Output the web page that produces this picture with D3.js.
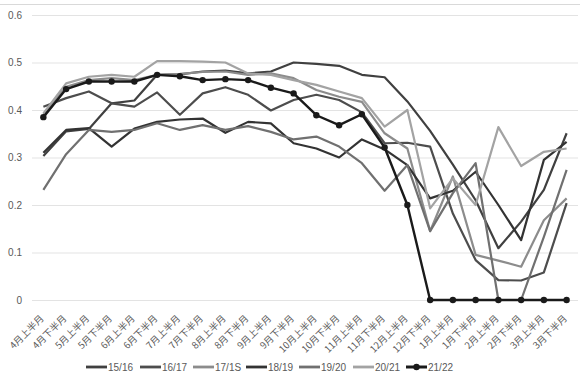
<!DOCTYPE html>
<html><head><meta charset="utf-8">
<script src="https://cdn.jsdelivr.net/npm/d3@7"></script>
<style>
html,body{margin:0;padding:0;background:#fff;}
svg{display:block;}
</style></head>
<body>
<svg id="chart" width="580" height="381"></svg>
<script>
const categories = ["4月上半月","4月下半月","5月上半月","5月下半月","6月上半月","6月下半月","7月上半月","7月下半月","8月上半月","8月下半月","9月上半月","9月下半月","10月上半月","10月下半月","11月上半月","11月下半月","12月上半月","12月下半月","1月上半月","1月下半月","2月上半月","2月下半月","3月上半月","3月下半月"];
const seriesNames = ["15/16","16/17","17/1S","18/19","19/20","20/21","21/22"];
const s1516 = [0.303,0.355,0.36,0.414,0.42,0.474,0.475,0.481,0.483,0.477,0.481,0.50,0.497,0.493,0.474,0.469,0.418,0.356,0.285,0.21,0.109,0.165,0.232,0.351];
const s1617 = [0.407,0.425,0.439,0.414,0.407,0.437,0.39,0.435,0.448,0.432,0.399,0.421,0.432,0.421,0.395,0.33,0.331,0.323,0.182,0.084,0.042,0.041,0.058,0.204];
const s1718 = [0.39,0.449,0.463,0.467,0.463,0.474,0.476,0.48,0.481,0.474,0.477,0.467,0.442,0.428,0.417,0.351,0.319,0.145,0.26,0.095,0.083,0.07,0.168,0.214];
const s1819 = [0.31,0.358,0.362,0.323,0.361,0.375,0.38,0.382,0.352,0.375,0.372,0.33,0.319,0.30,0.338,0.317,0.284,0.214,0.23,0.27,0.2,0.126,0.295,0.333];
const s1920 = [0.232,0.307,0.358,0.354,0.358,0.372,0.358,0.368,0.358,0.366,0.354,0.338,0.344,0.323,0.288,0.23,0.284,0.145,0.225,0.288,0,0,0.133,0.274];
const s2021 = [0.393,0.456,0.47,0.474,0.47,0.503,0.503,0.502,0.50,0.477,0.474,0.463,0.453,0.439,0.425,0.365,0.40,0.193,0.256,0.2,0.364,0.282,0.312,0.319];
const s2122 = [0.385,0.444,0.46,0.46,0.46,0.474,0.471,0.463,0.465,0.463,0.447,0.435,0.389,0.368,0.391,0.321,0.2,0,0,0,0,0,0,0];
const yTicks = [0,0.1,0.2,0.3,0.4,0.5,0.6];

const seriesValues = [s1516,s1617,s1718,s1819,s1920,s2021,s2122];
const colors = ["#404040","#4d4d4d","#8c8c8c","#333333","#707070","#a3a3a3","#1a1a1a"];
const widths = [2.2,2.2,2.2,2.2,2.2,2.2,2.4];

const svg = d3.select("#chart");
const font = "'Liberation Sans','Noto Sans CJK SC',sans-serif";

// top border
svg.append("line").attr("x1",0).attr("x2",580).attr("y1",4.5).attr("y2",4.5)
  .attr("stroke","#d9d9d9").attr("stroke-width",1);

const x = d3.scaleBand().domain(categories).range([32,578]).padding(0);
const xc = c => x(c) + x.bandwidth()/2;
const y = d3.scaleLinear().domain([0,0.6]).range([300,15]);

// gridlines + y labels
const yAxis = svg.append("g").attr("transform","translate(32,0)")
  .call(d3.axisLeft(y).tickValues(yTicks).tickSize(-546).tickPadding(10)
     .tickFormat(d => d===0 ? "0" : d3.format(".1f")(d)));
yAxis.select(".domain").remove();
yAxis.selectAll(".tick line").attr("stroke","#e3e3e3").attr("stroke-width",1);
yAxis.selectAll(".tick text").attr("fill","#595959").style("font-family",font).style("font-size","10px");

// x labels
const xAxis = svg.append("g").attr("transform","translate(0,300)")
  .call(d3.axisBottom(x).tickSize(0).tickPadding(0));
xAxis.select(".domain").remove();
xAxis.selectAll(".tick text")
  .attr("fill","#595959").style("font-family","'Noto Sans CJK SC',sans-serif").style("font-size","9.5px")
  .attr("text-anchor","end").attr("dy",0).attr("y",0)
  .attr("transform","translate(1,19) rotate(-45)");

// lines
const line = d3.line().x((d,i)=>xc(categories[i])).y(d=>y(d));
seriesValues.forEach((vals,k)=>{
  svg.append("path").datum(vals).attr("d",line).attr("fill","none")
    .attr("stroke",colors[k]).attr("stroke-width",widths[k]).attr("stroke-linejoin","round");
});
svg.append("g").selectAll("circle").data(s2122).join("circle")
  .attr("cx",(d,i)=>xc(categories[i])).attr("cy",d=>y(d)).attr("r",3.2).attr("fill",colors[6]);

// legend
const legendX = [86,140,193,246,299,353,406];
const lg = svg.append("g");
seriesNames.forEach((n,k)=>{
  const g = lg.append("g").attr("transform",`translate(${legendX[k]},367)`);
  g.append("line").attr("x1",0).attr("x2",21).attr("y1",0).attr("y2",0)
    .attr("stroke",colors[k]).attr("stroke-width",widths[k]+0.6);
  if(k===6) g.append("circle").attr("cx",10.5).attr("cy",0).attr("r",3.2).attr("fill",colors[6]);
  g.append("text").attr("x",22).attr("y",3.6).text(n).attr("fill","#595959")
    .style("font-family",font).style("font-size","10px");
});
</script>
</body></html>
